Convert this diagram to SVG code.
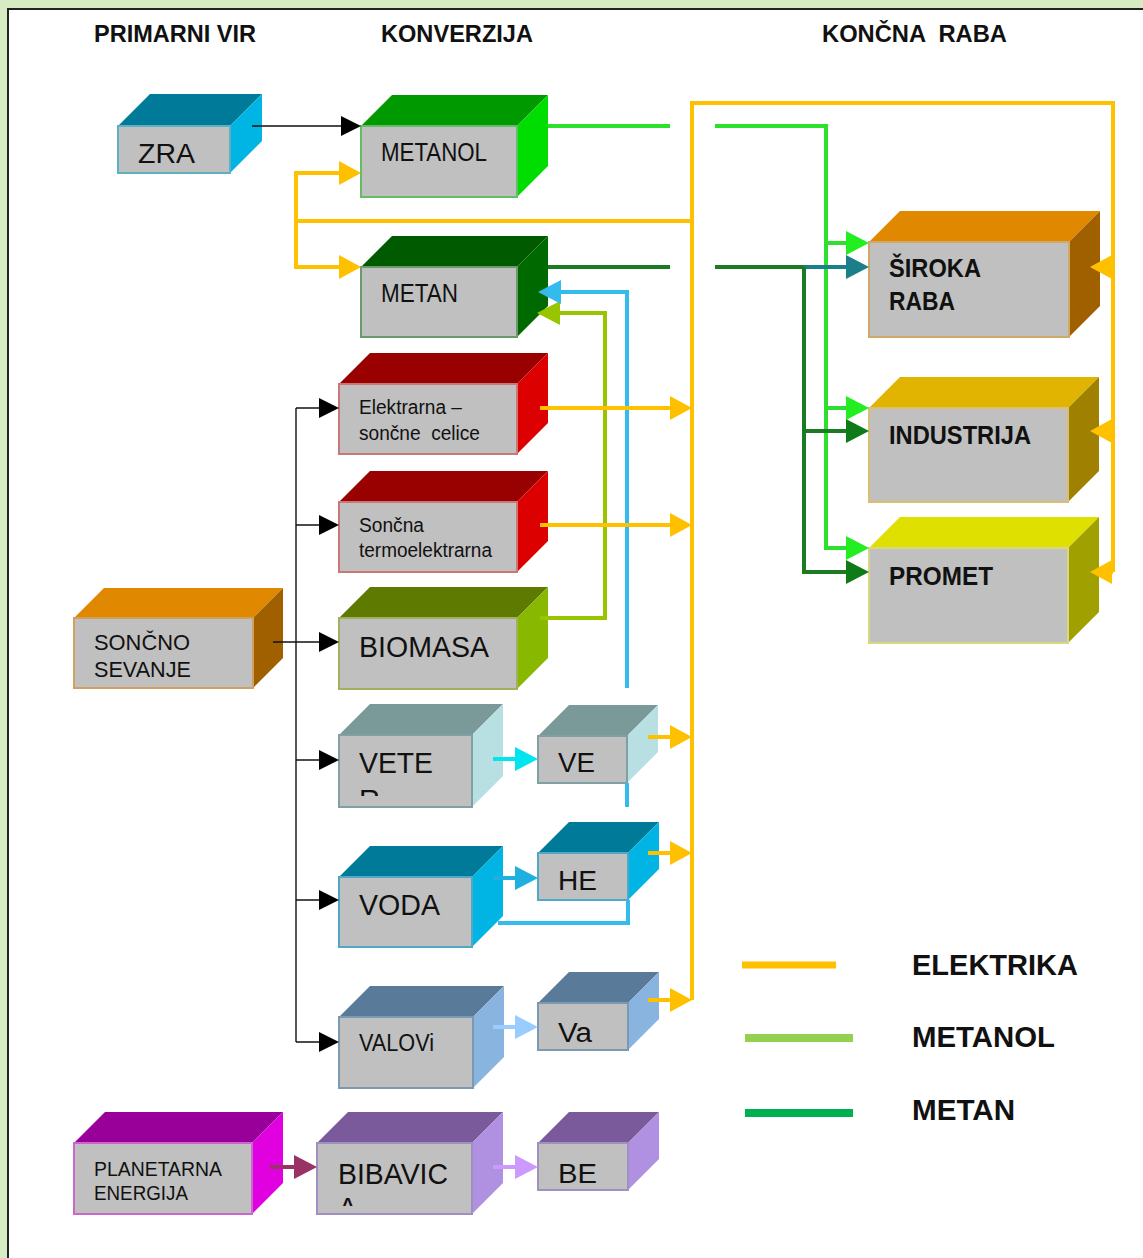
<svg xmlns="http://www.w3.org/2000/svg" width="1143" height="1258" viewBox="0 0 1143 1258">
<style>
text{font-family:"Liberation Sans",Arial,sans-serif;fill:#111}
.t{font-weight:bold;font-size:23px}
.b{font-weight:bold}
.f{fill:#c0c0c0;stroke-width:2}
.c{fill:none;stroke-linejoin:miter}
.k{stroke:#111;stroke-width:1.4}
.y{stroke:#ffc000;stroke-width:4}
.g{stroke:#2ee02e;stroke-width:4}
.d{stroke:#1c7a22;stroke-width:4}
</style>
<defs>
<marker id="mK" viewBox="0 0 20 20" refX="12" refY="10" markerWidth="20" markerHeight="20" markerUnits="userSpaceOnUse" orient="auto"><path d="M0,0 L20,10 L0,20 z" fill="#000"/></marker>
<marker id="mY" viewBox="0 0 22 24" refX="14" refY="12" markerWidth="22" markerHeight="24" markerUnits="userSpaceOnUse" orient="auto"><path d="M0,0 L22,12 L0,24 z" fill="#ffc000"/></marker>
<marker id="mG" viewBox="0 0 23 24" refX="15" refY="12" markerWidth="23" markerHeight="24" markerUnits="userSpaceOnUse" orient="auto"><path d="M0,0 L23,12 L0,24 z" fill="#22ee22"/></marker>
<marker id="mD" viewBox="0 0 23 24" refX="15" refY="12" markerWidth="23" markerHeight="24" markerUnits="userSpaceOnUse" orient="auto"><path d="M0,0 L23,12 L0,24 z" fill="#0f7a18"/></marker>
<marker id="mT" viewBox="0 0 23 24" refX="15" refY="12" markerWidth="23" markerHeight="24" markerUnits="userSpaceOnUse" orient="auto"><path d="M0,0 L23,12 L0,24 z" fill="#1a7f8a"/></marker>
<marker id="mO" viewBox="0 0 23 24" refX="15" refY="12" markerWidth="23" markerHeight="24" markerUnits="userSpaceOnUse" orient="auto"><path d="M0,0 L23,12 L0,24 z" fill="#99c400"/></marker>
<marker id="mB" viewBox="0 0 23 24" refX="15" refY="12" markerWidth="23" markerHeight="24" markerUnits="userSpaceOnUse" orient="auto"><path d="M0,0 L23,12 L0,24 z" fill="#33bbee"/></marker>
<marker id="mC" viewBox="0 0 23 24" refX="15" refY="12" markerWidth="23" markerHeight="24" markerUnits="userSpaceOnUse" orient="auto"><path d="M0,0 L23,12 L0,24 z" fill="#00e5ee"/></marker>
<marker id="mH" viewBox="0 0 23 24" refX="15" refY="12" markerWidth="23" markerHeight="24" markerUnits="userSpaceOnUse" orient="auto"><path d="M0,0 L23,12 L0,24 z" fill="#1fb0e0"/></marker>
<marker id="mL" viewBox="0 0 23 24" refX="15" refY="12" markerWidth="23" markerHeight="24" markerUnits="userSpaceOnUse" orient="auto"><path d="M0,0 L23,12 L0,24 z" fill="#99ccff"/></marker>
<marker id="mP" viewBox="0 0 23 24" refX="15" refY="12" markerWidth="23" markerHeight="24" markerUnits="userSpaceOnUse" orient="auto"><path d="M0,0 L23,12 L0,24 z" fill="#993366"/></marker>
<marker id="mV" viewBox="0 0 23 24" refX="15" refY="12" markerWidth="23" markerHeight="24" markerUnits="userSpaceOnUse" orient="auto"><path d="M0,0 L23,12 L0,24 z" fill="#cc99ff"/></marker>
<clipPath id="clipVeter"><rect x="339" y="735" width="133" height="61"/></clipPath>
<clipPath id="clipBib"><rect x="317" y="1143" width="155" height="63"/></clipPath>
</defs>

<!-- frame -->
<rect x="0" y="0" width="1143" height="1258" fill="#d7ecc3"/>
<rect x="8" y="9" width="1135" height="1249" fill="#ffffff"/>
<path d="M8,1258 V9 H1143" fill="none" stroke="#222" stroke-width="2"/>

<!-- titles -->
<text class="t" x="94" y="42" textLength="162" lengthAdjust="spacingAndGlyphs">PRIMARNI VIR</text>
<text class="t" x="381" y="42" textLength="152" lengthAdjust="spacingAndGlyphs">KONVERZIJA</text>
<text class="t" x="822" y="42" textLength="185" lengthAdjust="spacingAndGlyphs" xml:space="preserve" style="white-space:pre">KONČNA  RABA</text>

<!-- nodes -->
<g id="zra">
<polygon points="118,126 150,94 262,94 230,126" fill="#007a99"/>
<polygon points="230,126 262,94 262,141 230,173" fill="#00b4e4"/>
<rect class="f" x="118" y="126" width="112" height="47" stroke="#5fb0c0"/>
<text x="138" y="163" font-size="28" textLength="57" lengthAdjust="spacingAndGlyphs">ZRA</text>
</g>
<g id="metanol">
<polygon points="361,126 392,95 548,95 517,126" fill="#009a00"/>
<polygon points="517,126 548,95 548,166 517,197" fill="#00dd00"/>
<rect class="f" x="361" y="126" width="156" height="71" stroke="#66bb66"/>
<text x="381" y="161" font-size="26" textLength="106" lengthAdjust="spacingAndGlyphs">METANOL</text>
</g>
<g id="metan">
<polygon points="361,267 392,236 548,236 517,267" fill="#005a00"/>
<polygon points="517,267 548,236 548,306 517,337" fill="#006a00"/>
<rect class="f" x="361" y="267" width="156" height="70" stroke="#6a9a6a"/>
<text x="381" y="302" font-size="26" textLength="77" lengthAdjust="spacingAndGlyphs">METAN</text>
</g>
<g id="elektrarna">
<polygon points="339,384 370,353 548,353 517,384" fill="#990000"/>
<polygon points="517,384 548,353 548,423 517,454" fill="#dd0000"/>
<rect class="f" x="339" y="384" width="178" height="70" stroke="#cc7777"/>
<text x="359" y="414" font-size="20" textLength="103" lengthAdjust="spacingAndGlyphs">Elektrarna –</text>
<text x="359" y="440" font-size="20" textLength="121" lengthAdjust="spacingAndGlyphs" xml:space="preserve" style="white-space:pre">sončne  celice</text>
</g>
<g id="termoelektrarna">
<polygon points="339,502 370,471 548,471 517,502" fill="#990000"/>
<polygon points="517,502 548,471 548,541 517,572" fill="#dd0000"/>
<rect class="f" x="339" y="502" width="178" height="70" stroke="#cc7777"/>
<text x="359" y="532" font-size="20" textLength="65" lengthAdjust="spacingAndGlyphs">Sončna</text>
<text x="359" y="557" font-size="20" textLength="133" lengthAdjust="spacingAndGlyphs">termoelektrarna</text>
</g>
<g id="biomasa">
<polygon points="339,618 370,587 548,587 517,618" fill="#5f7a00"/>
<polygon points="517,618 548,587 548,658 517,689" fill="#88b800"/>
<rect class="f" x="339" y="618" width="178" height="71" stroke="#a0b060"/>
<text x="359" y="657" font-size="29" textLength="130" lengthAdjust="spacingAndGlyphs">BIOMASA</text>
</g>
<g id="soncno">
<polygon points="74,618 104,588 283,588 253,618" fill="#e08800"/>
<polygon points="253,618 283,588 283,658 253,688" fill="#a06000"/>
<rect class="f" x="74" y="618" width="179" height="70" stroke="#d0a060"/>
<text x="94" y="650" font-size="22" textLength="96" lengthAdjust="spacingAndGlyphs">SONČNO</text>
<text x="94" y="677" font-size="22" textLength="97" lengthAdjust="spacingAndGlyphs">SEVANJE</text>
</g>
<g id="veter">
<polygon points="339,735 370,704 503,704 472,735" fill="#7a9a9a"/>
<polygon points="472,735 503,704 503,776 472,807" fill="#b8e0e2"/>
<rect class="f" x="339" y="735" width="133" height="72" stroke="#80a0a4"/>
<g clip-path="url(#clipVeter)">
<text x="359" y="773" font-size="29" textLength="74" lengthAdjust="spacingAndGlyphs">VETE</text>
<text x="359" y="810" font-size="29">R</text>
</g>
</g>
<g id="ve">
<polygon points="538,736 569,705 658,705 627,736" fill="#7a9a9a"/>
<polygon points="627,736 658,705 658,752 627,783" fill="#b8e0e2"/>
<rect class="f" x="538" y="736" width="89" height="47" stroke="#80a0a4"/>
<text x="558" y="772" font-size="28" textLength="37" lengthAdjust="spacingAndGlyphs">VE</text>
</g>
<g id="voda">
<polygon points="339,877 370,846 503,846 472,877" fill="#007a99"/>
<polygon points="472,877 503,846 503,916 472,947" fill="#00b4e4"/>
<rect class="f" x="339" y="877" width="133" height="70" stroke="#50a8c4"/>
<text x="359" y="915" font-size="29" textLength="81" lengthAdjust="spacingAndGlyphs">VODA</text>
</g>
<g id="he">
<polygon points="538,853 569,822 659,822 628,853" fill="#007a99"/>
<polygon points="628,853 659,822 659,869 628,900" fill="#00b4e4"/>
<rect class="f" x="538" y="853" width="90" height="47" stroke="#50a8c4"/>
<text x="558" y="890" font-size="28" textLength="39" lengthAdjust="spacingAndGlyphs">HE</text>
</g>
<g id="valovi">
<polygon points="339,1017 370,986 504,986 473,1017" fill="#5a7a9a"/>
<polygon points="473,1017 504,986 504,1057 473,1088" fill="#8ab4e0"/>
<rect class="f" x="339" y="1017" width="134" height="71" stroke="#7a9ab4"/>
<text x="359" y="1051" font-size="23" textLength="75" lengthAdjust="spacingAndGlyphs">VALOVi</text>
</g>
<g id="va">
<polygon points="538,1003 569,972 659,972 628,1003" fill="#5a7a9a"/>
<polygon points="628,1003 659,972 659,1019 628,1050" fill="#8ab4e0"/>
<rect class="f" x="538" y="1003" width="90" height="47" stroke="#7a9ab4"/>
<text x="558" y="1042" font-size="27" textLength="34" lengthAdjust="spacingAndGlyphs">Va</text>
</g>
<g id="planetarna">
<polygon points="74,1143 105,1112 283,1112 252,1143" fill="#990099"/>
<polygon points="252,1143 283,1112 283,1183 252,1214" fill="#e000e0"/>
<rect class="f" x="74" y="1143" width="178" height="71" stroke="#cc66cc"/>
<text x="94" y="1176" font-size="20" textLength="128" lengthAdjust="spacingAndGlyphs">PLANETARNA</text>
<text x="94" y="1200" font-size="20" textLength="94" lengthAdjust="spacingAndGlyphs">ENERGIJA</text>
</g>
<g id="bibavica">
<polygon points="317,1143 348,1112 503,1112 472,1143" fill="#7a5a9a"/>
<polygon points="472,1143 503,1112 503,1183 472,1214" fill="#b090e0"/>
<rect class="f" x="317" y="1143" width="155" height="71" stroke="#a090c0"/>
<g clip-path="url(#clipBib)">
<text x="338" y="1184" font-size="29" textLength="110" lengthAdjust="spacingAndGlyphs">BIBAVIC</text>
<text x="338" y="1218" font-size="29">A</text>
</g>
</g>
<g id="be">
<polygon points="538,1143 569,1112 659,1112 628,1143" fill="#7a5a9a"/>
<polygon points="628,1143 659,1112 659,1159 628,1190" fill="#b090e0"/>
<rect class="f" x="538" y="1143" width="90" height="47" stroke="#a090c0"/>
<text x="558" y="1183" font-size="28" textLength="39" lengthAdjust="spacingAndGlyphs">BE</text>
</g>
<g id="siroka">
<polygon points="869,242 900,211 1100,211 1069,242" fill="#e08800"/>
<polygon points="1069,242 1100,211 1100,306 1069,337" fill="#a06000"/>
<rect class="f" x="869" y="242" width="200" height="95" stroke="#d0a868"/>
<text class="b" x="889" y="277" font-size="25" textLength="92" lengthAdjust="spacingAndGlyphs">ŠIROKA</text>
<text class="b" x="889" y="310" font-size="25" textLength="66" lengthAdjust="spacingAndGlyphs">RABA</text>
</g>
<g id="industrija">
<polygon points="869,408 900,377 1099,377 1068,408" fill="#e0b400"/>
<polygon points="1068,408 1099,377 1099,471 1068,502" fill="#a08000"/>
<rect class="f" x="869" y="408" width="199" height="94" stroke="#d8c070"/>
<text class="b" x="889" y="444" font-size="26" textLength="142" lengthAdjust="spacingAndGlyphs">INDUSTRIJA</text>
</g>
<g id="promet">
<polygon points="869,548 900,517 1099,517 1068,548" fill="#e0e000"/>
<polygon points="1068,548 1099,517 1099,612 1068,643" fill="#a0a000"/>
<rect class="f" x="869" y="548" width="199" height="95" stroke="#d8d880"/>
<text class="b" x="889" y="585" font-size="26" textLength="104" lengthAdjust="spacingAndGlyphs">PROMET</text>
</g>

<!-- connectors -->
<g id="connectors">
<path class="c k" d="M252,126 H353" marker-end="url(#mK)"/>
<path class="c k" d="M296,408 V1042"/>
<path class="c k" d="M296,408 H331" marker-end="url(#mK)"/>
<path class="c k" d="M296,525 H331" marker-end="url(#mK)"/>
<path class="c k" d="M273,642 H331" marker-end="url(#mK)"/>
<path class="c k" d="M296,760 H331" marker-end="url(#mK)"/>
<path class="c k" d="M296,900 H331" marker-end="url(#mK)"/>
<path class="c k" d="M296,1042 H331" marker-end="url(#mK)"/>
<path class="c" d="M540,618 H605 V313 H545" stroke="#99c400" stroke-width="4" marker-end="url(#mO)"/>
<path class="c" d="M627,688 V292 H546" stroke="#33bbee" stroke-width="4" marker-end="url(#mB)"/>
<path class="c" d="M627,783 V807" stroke="#33bbee" stroke-width="4"/>
<path class="c" d="M498,923 H628 V900" stroke="#33bbee" stroke-width="4"/>
<path class="c y" d="M692,221 H296 V173 H353" marker-end="url(#mY)"/>
<path class="c y" d="M296,221 V267 H353" marker-end="url(#mY)"/>
<path class="c y" d="M692,1000 V103 H1113 V572"/>
<path class="c y" d="M1113,267 H1098" marker-end="url(#mY)"/>
<path class="c y" d="M1113,431 H1098" marker-end="url(#mY)"/>
<path class="c y" d="M1113,572 H1098" marker-end="url(#mY)"/>
<path class="c y" d="M540,408 H684" marker-end="url(#mY)"/>
<path class="c y" d="M540,525 H684" marker-end="url(#mY)"/>
<path class="c y" d="M648,737 H684" marker-end="url(#mY)"/>
<path class="c y" d="M648,853 H684" marker-end="url(#mY)"/>
<path class="c y" d="M648,1000 H684" marker-end="url(#mY)"/>
<path class="c g" d="M548,126 H670"/>
<path class="c g" d="M715,126 H826 V548 H861" marker-end="url(#mG)"/>
<path class="c g" d="M826,243 H861" marker-end="url(#mG)"/>
<path class="c g" d="M826,408 H861" marker-end="url(#mG)"/>
<path class="c d" d="M548,267 H670"/>
<path class="c d" d="M715,267 H806"/>
<path class="c" d="M804,267 H861" stroke="#1a7f8a" stroke-width="4" marker-end="url(#mT)"/>
<path class="c d" d="M804,267 V572 H861" marker-end="url(#mD)"/>
<path class="c d" d="M804,431 H861" marker-end="url(#mD)"/>
<path class="c" d="M493,759 H530" stroke="#00e5ee" stroke-width="4" marker-end="url(#mC)"/>
<path class="c" d="M493,878 H530" stroke="#1fb0e0" stroke-width="4" marker-end="url(#mH)"/>
<path class="c" d="M493,1027 H530" stroke="#99ccff" stroke-width="4" marker-end="url(#mL)"/>
<path class="c" d="M270,1167 H309" stroke="#993366" stroke-width="4" marker-end="url(#mP)"/>
<path class="c" d="M493,1167 H530" stroke="#cc99ff" stroke-width="4" marker-end="url(#mV)"/>
</g>

<g id="legend">
<line x1="742" y1="965" x2="836" y2="965" stroke="#ffc000" stroke-width="7"/>
<line x1="745" y1="1038" x2="853" y2="1038" stroke="#92d050" stroke-width="8"/>
<line x1="745" y1="1113" x2="853" y2="1113" stroke="#00b050" stroke-width="8"/>
<text class="b" x="912" y="975" font-size="29" textLength="166" lengthAdjust="spacingAndGlyphs">ELEKTRIKA</text>
<text class="b" x="912" y="1047" font-size="29" textLength="143" lengthAdjust="spacingAndGlyphs">METANOL</text>
<text class="b" x="912" y="1120" font-size="29" textLength="103" lengthAdjust="spacingAndGlyphs">METAN</text>
</g>
</svg>
